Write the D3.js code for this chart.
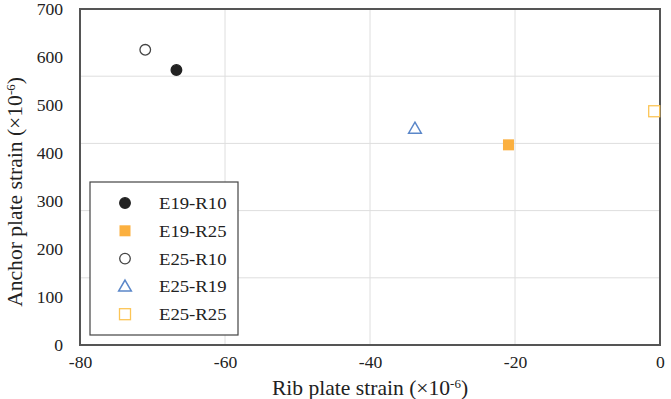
<!DOCTYPE html>
<html><head><meta charset="utf-8">
<script src="https://cdn.jsdelivr.net/npm/d3@7"></script>
<style>body{margin:0;background:#fff}svg{display:block}text{font-family:"Liberation Serif","Times New Roman",serif;fill:#222}</style>
</head><body><svg id="c" width="671" height="399"></svg>
<script>
const seriesNames = ["E19-R10","E19-R25","E25-R10","E25-R19","E25-R25"];
const ribStrain = [-66.7,-20.9,-71.0,-33.8,-0.8];
const anchorStrain = [573,417,615,451,487];
const xTicks = [-80,-60,-40,-20,0];
const yTicks = [0,100,200,300,400,500,600,700];
const yGrid = [140,280,420,560];

const styles = {
  "E19-R10":{shape:"circle",fill:"#222",stroke:"#222"},
  "E19-R25":{shape:"square",fill:"#fbb040",stroke:"#fbb040"},
  "E25-R10":{shape:"circle",fill:"none",stroke:"#444"},
  "E25-R19":{shape:"triangle",fill:"none",stroke:"#5b87c9"},
  "E25-R25":{shape:"square",fill:"none",stroke:"#fcc556"}
};
const SX = 1.1; // horizontal text stretch seen in the reference

const svg = d3.select("#c");
const L=80,R=660,T=9,B=345;
const x = d3.scaleLinear().domain([-80,0]).range([L,R]);
const y = d3.scaleLinear().domain([0,700]).range([B,T]);

// grid
svg.append("g").selectAll("line").data(yGrid).join("line")
  .attr("x1",L).attr("x2",R).attr("y1",d=>y(d)).attr("y2",d=>y(d))
  .attr("stroke","#dedede").attr("stroke-width",1);
svg.append("g").selectAll("line").data(xTicks.slice(1,-1)).join("line")
  .attr("y1",T).attr("y2",B).attr("x1",d=>x(d)).attr("x2",d=>x(d))
  .attr("stroke","#dedede").attr("stroke-width",1);

// axes
const xa = svg.append("g").attr("transform",`translate(0,${B})`)
  .call(d3.axisBottom(x).tickValues(xTicks).tickSize(0).tickPadding(12).tickFormat(d=>String(d)));
const ya = svg.append("g").attr("transform",`translate(${L},0)`)
  .call(d3.axisLeft(y).tickValues(yTicks).tickSize(0).tickPadding(17).tickFormat(d=>String(d)));
[xa,ya].forEach(a=>{a.select(".domain").remove();a.selectAll("text").attr("font-size",16).attr("font-family","Liberation Serif").attr("fill","#222");});
xa.selectAll("text").attr("transform",`scale(${SX},1)`);
ya.selectAll("text").attr("x",-17/SX).attr("transform",`scale(${SX},1)`);

// frame
svg.append("rect").attr("x",L).attr("y",T).attr("width",R-L).attr("height",B-T)
  .attr("fill","none").attr("stroke","#555").attr("stroke-width",2);

function drawMarker(g, s, cx, cy){
  const st = styles[s];
  if(st.shape==="circle"){
    g.append("circle").attr("cx",cx).attr("cy",cy).attr("r",5.3)
      .attr("fill",st.fill).attr("stroke",st.stroke).attr("stroke-width",1.3);
  } else if(st.shape==="square"){
    const h = 5.5;
    g.append("rect").attr("x",cx-h).attr("y",cy-h).attr("width",2*h).attr("height",2*h)
      .attr("fill",st.fill).attr("stroke",st.stroke).attr("stroke-width",st.fill==="none"?1.3:0);
  } else {
    const sym = d3.symbol().type(d3.symbolTriangle).size(70);
    g.append("path").attr("d",sym()).attr("transform",`translate(${cx},${cy+1})`)
      .attr("fill","none").attr("stroke",st.stroke).attr("stroke-width",1.5);
  }
}

const pts = svg.append("g");
seriesNames.forEach((s,i)=>drawMarker(pts,s,x(ribStrain[i]),y(anchorStrain[i])));

// legend
const lg = svg.append("g");
lg.append("rect").attr("x",90).attr("y",182).attr("width",148).attr("height",153)
  .attr("fill","#fff").attr("stroke","#444").attr("stroke-width",1.2);
seriesNames.forEach((s,i)=>{
  const cy = 203 + i*27.8;
  drawMarker(lg,s,125,cy);
  lg.append("text").attr("transform",`translate(159,${cy}) scale(${SX},1)`).attr("dy","0.35em")
    .attr("font-size",17).text(s);
});

// titles
const xt = svg.append("text").attr("transform",`translate(370,395) scale(1.08,1)`).attr("text-anchor","middle").attr("font-size",20);
xt.append("tspan").text("Rib plate strain (×10");
xt.append("tspan").attr("font-size",12).attr("dy",-7).text("-6");
xt.append("tspan").attr("dy",7).text(")");

const yt = svg.append("text").attr("transform","translate(22,192) rotate(-90) scale(1.08,1)").attr("text-anchor","middle").attr("font-size",20);
yt.append("tspan").text("Anchor plate strain (×10");
yt.append("tspan").attr("font-size",12).attr("dy",-7).text("-6");
yt.append("tspan").attr("dy",7).text(")");
</script></body></html>
